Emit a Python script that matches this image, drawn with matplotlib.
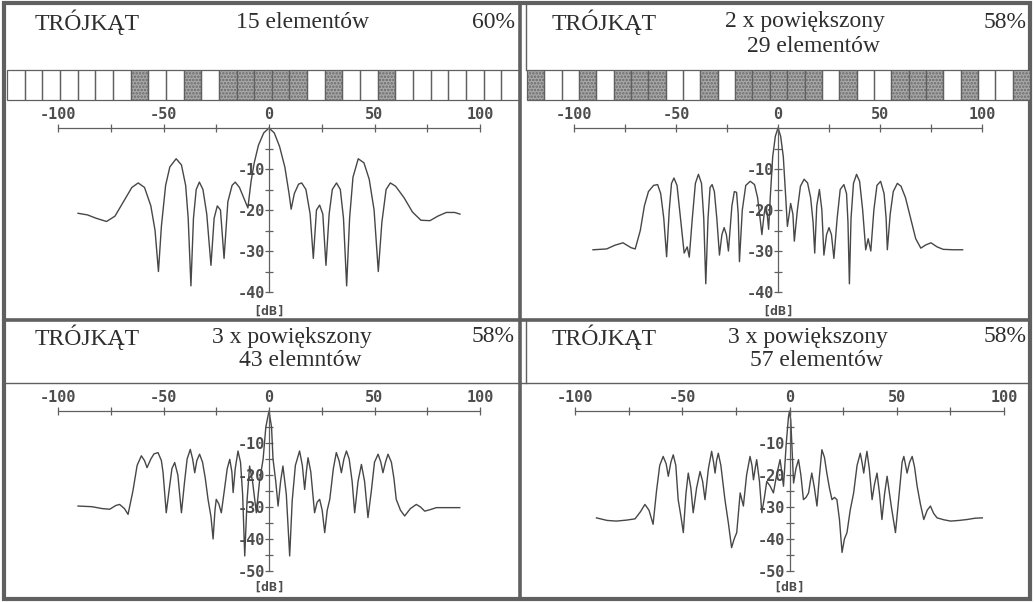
"""Array-factor patterns of thinned triangular arrays (scan re-drawn)."""
import matplotlib

matplotlib.use("Agg")
import matplotlib.pyplot as plt
from matplotlib.patches import Rectangle

W, H = 1034, 602

# ---- values (angle in deg, level in dB) ----
tl_angle = [-90.5, -86, -82, -77, -73, -69, -65, -62, -59, -56, -54, -52.4, -51, -49, -47,
            -44, -41.5, -39.5, -38.3, -37, -35.8, -34.5, -33, -31.3, -29.5, -27.5, -26,
            -24.5, -23, -21.3, -19.5, -17.5, -16, -14, -12, -10, -8.5, -7, -5, -2.5, 0,
            2.5, 5, 7.5, 9.5, 10.5, 12, 14, 15.5, 17.5, 19.5, 21, 22.5, 24, 25.5, 27, 28.5,
            30, 32, 33.8, 35.3, 36.8, 38.2, 39.8, 42.3, 45, 47.5, 49.8, 51.8, 53.5, 55.5,
            57.5, 60, 64, 68, 72, 76.3, 80, 84, 88, 90.5]
tl_db = [-20.8, -21.2, -22.0, -22.8, -21.5, -18.0, -14.5, -13.4, -14.5, -19, -25, -35, -24,
         -14, -9.5, -7.5, -9, -14, -22, -38.5, -22, -15, -13.2, -15, -21, -33.5, -22, -19,
         -20, -31.8, -18, -14, -13.2, -14.5, -17, -19.5, -13, -8.5, -4.2, -1.2, 0,
         -1.2, -4.5, -9.5, -16, -19.8, -16, -13.7, -13.4, -15, -21, -31.8, -20, -18.8, -21,
         -33.5, -21, -15, -13.4, -15, -22, -38.5, -22, -12, -7.5, -8.5, -12.5, -20, -35,
         -23, -15, -13.4, -14.2, -17, -20.5, -22.5, -22.6, -21.5, -20.6, -20.6, -21]

tr_angle = [-90.7, -84, -80, -76, -72, -70, -67.5, -65.5, -63.5, -61, -59, -57.5, -56, -54.6,
            -53.3, -52.2, -51, -49.5, -47.8, -46, -44.5, -43.5, -42, -40.5, -39, -37.5,
            -36.4, -35.4, -34.3, -33.3, -32.3, -31.2, -30, -28.7, -27.5, -26.4, -25.3,
            -24.3, -22.6, -21.4, -20.3, -19.5, -18.9, -17.5, -15.8, -13.6, -11.5, -10,
            -8.8, -7.9, -6.8, -6.2, -5.3, -4.6, -3.8, -2.6, -1.3, 0, 1.3, 2.6, 3.8, 4.6,
            5.5, 6.2, 7.3, 8, 9.5, 11, 12.8, 14.5, 16, 17.2, 18, 19, 20.3, 21.5, 22.5,
            23.8, 25, 26.2, 27.4, 29, 30.5, 32.3, 33.6, 34.3, 35, 35.8, 37, 38.5, 40,
            41.5, 43, 44.2, 45.5, 47, 48.5, 50.3, 52, 53, 53.6, 55, 56.5, 58.5, 60.3,
            62.5, 65, 67.5, 70, 72.5, 75, 78, 81, 86, 90.5]
tr_db = [-29.7, -29.5, -28.6, -28, -29.2, -29.5, -25, -19, -15.5, -14, -13.8, -16, -22, -31.4,
         -20, -13.5, -12.2, -14, -22, -30.5, -29, -31.5, -22, -13.5, -11.3, -13.5,
         -22, -38, -22, -14.5, -13.8, -15.5, -22, -31, -26, -24.3, -26,
         -30, -19, -15.5, -15.7, -21, -32.6, -20, -14, -13, -13.8, -17,
         -22, -26, -21, -19.2, -21, -24.7, -17, -7, -2, 0, -2, -7, -17, -24,
         -21, -18.4, -21, -27.6, -20, -14.2, -12.5, -13.4, -17, -23, -30.5, -19, -15, -20, -31,
         -26, -24.3, -26, -31.8, -22, -15, -13.8, -16, -23, -38, -22, -13.5, -11.3, -13,
         -20, -29.7, -27, -30, -20, -14, -13, -16, -22, -29.7, -21, -15.5, -13.5, -14.2,
         -17, -22, -27, -29.3, -28.5, -28, -29, -29.6, -29.7, -29.7]

bl_angle = [-90.5, -84, -79, -75.5, -72.5, -70.8, -68.5, -66.8, -64.5, -62.5, -60.5, -59,
            -57.8, -56, -54.5, -52.6, -51, -50.2, -49.4, -48.7, -47.2, -46, -44.7, -43.2,
            -41.5, -40, -38.8, -37.3, -36.2, -35.2, -34.2, -32.9, -31.5, -30.2, -28.9,
            -27.5, -26.5, -25.6, -25, -23.8, -22.6, -21, -19.8, -18.6, -17.6, -17, -16,
            -14.7, -13.5, -12.5, -11.5, -10.4, -9.2, -7.8, -6, -4.5, -2.8, -1.5, 0, 1.2,
            1.9, 3.2, 4.3, 5.5, 6.6, 8.2, 9.8, 11, 12.5, 14.5, 15.8, 16.9, 17.7, 18.5,
            19.8, 21.6, 22.8, 24, 25.2, 26.4, 27.6, 28.8, 30.5, 31.9, 33.2, 34.3, 35.5,
            36.7, 38, 39.4, 40.6, 42.2, 43.8, 45.3, 46.9, 48.5, 50, 51.7, 53, 54, 55.2,
            56.4, 58, 59.2, 60.3, 62.3, 64.3, 67, 69.8, 71.8, 73.8, 76.5, 79.3, 84, 90.4]
bl_db = [-29.7, -29.9, -30.5, -30.7, -29.5, -29.2, -30.5, -32.3, -25, -17, -14, -15.5,
         -17.7, -15, -13.4, -13, -15.5, -19.3, -26, -31.8, -24, -18, -16.1, -20,
         -31.8, -22, -15, -12, -15, -19.3, -15.5, -13.5, -16, -21, -27.6,
         -33, -40, -31, -27.6, -29, -31.8, -24, -18, -15.1, -19, -25.5, -18,
         -12.5, -16, -26, -45.3, -28, -17.2, -22, -31.8, -22, -15.1, -5, 0, -5,
         -15, -22, -29.7, -22, -17.2, -26, -45.3, -28, -17, -12.5, -17, -24.5, -19, -14.6,
         -19, -31.8, -28.5, -27.6, -31, -38, -31, -27.6, -18, -13, -15.5, -19.3, -15,
         -12.5, -15, -22, -31.8, -22, -16.7, -22, -33.3, -25, -16, -13.5, -16, -19.3, -16,
         -13.5, -16, -21, -27.6, -31, -32.8, -30.5, -29.2, -30, -31.3, -30.8, -30.2, -30.2, -30.2]

br_angle = [-90, -85, -80.7, -76, -72, -69.5, -67.4, -65.5, -63.6, -62, -60.5, -58.9, -57.5,
            -56.5, -55.3, -54.2, -53, -51.9, -50.6, -49.5, -48.3, -47.2, -46, -44.9, -43.3,
            -41.7, -40.5, -39.4, -37.8, -36.3, -35.4, -34.7, -34, -33.2, -32, -30.1, -28.5,
            -27, -25.8, -24.6, -23, -21.5, -20, -18.4, -17.5, -16.8, -16, -15.3, -14,
            -12.9, -11.7, -10.6, -9, -7.5, -6, -4.4, -3.6, -2.8, -1.5, -0.5, 0, 0.6, 1.2,
            1.9, 3, 4.2, 5.3, 6.5, 7.7, 8.9, 9.7, 10.4, 11.6, 12.8, 14, 15.1, 16.3, 17.4,
            18.6, 19.8, 21, 22.1, 23.3, 24.5, 25.6, 26.8, 28.3, 29.9, 31.5, 33, 33.8, 34.6,
            35.4, 36.1, 37.2, 38.5, 39.6, 40.8, 42, 43.1, 44.3, 45.5, 47.5, 49.4, 51.4,
            52.5, 53.3, 54, 54.8, 56, 57.2, 58.3, 59.5, 61, 62.6, 64.2, 65.7, 67.2, 68.8,
            72, 75.1, 79, 82.9, 86.5, 89.9]
br_db = [-33.4, -34.2, -34.4, -34.1, -33.7, -31.5, -29.2, -31, -35.4, -25, -17, -14.2, -16.5,
         -20.4, -16, -13.7, -17, -27.7, -33, -38, -26, -19.4, -24, -31.8, -24,
         -18.9, -22, -27.7, -18, -12.6, -16, -19.4, -15.5, -13.2, -17, -27.7, -35,
         -42.7, -40, -38, -25.6, -29.7, -20, -14.2, -17, -21.5, -18, -15.2, -22,
         -31.8, -27, -22, -23.5, -25.6, -20, -15.2, -19, -23.5, -10, -2, 0, -3, -12,
         -22.5, -18, -15.2, -20, -27.7, -27, -25.6, -22, -19.4, -24, -29.7, -20, -12.1, -14.5, -19.4,
         -24, -27.7, -27, -27.7, -34, -44.2, -40, -38, -31, -25.6, -17, -13.2, -16, -19.4,
         -15.5, -12.6, -18, -27.7, -23, -19.4, -26, -33.9, -26, -20.4, -30, -38, -24,
         -16, -14.2, -16.5, -19.4, -16, -14.2, -17.5, -23.5, -29, -33.9, -31, -29.7, -32, -33.4,
         -34, -34.4, -34.2, -33.9, -33.5, -33.4]

# element occupancy bars (1 = active element), 29 positions each
bar_15 = [0, 0, 0, 0, 0, 0, 0, 1, 0, 0, 1, 0, 1, 1, 1, 1, 1, 0, 1, 0, 0, 1, 0, 0, 0, 0, 0, 0, 0]
bar_29 = [1, 0, 0, 1, 0, 1, 1, 1, 0, 0, 1, 0, 1, 1, 1, 1, 1, 0, 1, 0, 0, 1, 1, 1, 0, 1, 0, 0, 1]

headers = [
    ("TRÓJKĄT", "15 elementów", "", "60%"),
    ("TRÓJKĄT", "2 x powiększony", "29 elementów", "58%"),
    ("TRÓJKĄT", "3 x powiększony", "43 elemntów", "58%"),
    ("TRÓJKĄT", "3 x powiększony", "57 elementów", "58%"),
]

LINE = "#606060"
INK = "#474747"
SHADE = "#a8a8a8"

plt.rcParams["font.family"] = ["DejaVu Sans Mono"]
plt.rcParams["font.weight"] = "bold"
plt.rcParams["axes.unicode_minus"] = False
plt.rcParams["hatch.linewidth"] = 1.2

fig = plt.figure(figsize=(W / 100, H / 100), dpi=100)
fig.patch.set_facecolor("white")

# pixel-space canvas for frames, bars and header text
bg = fig.add_axes([0, 0, 1, 1])
bg.set_xlim(0, W)
bg.set_ylim(H, 0)
bg.axis("off")

bg.add_patch(Rectangle((4, 3), W - 8, H - 6, fill=False, ec=LINE, lw=3))
bg.plot([520, 520], [3, H - 3], color=LINE, lw=2.6)
bg.plot([4, W - 4], [320, 320], color=LINE, lw=2.6)
bg.plot([4, W - 4], [383, 383], color=LINE, lw=1)
bg.plot([526, 526], [320, 383], color=LINE, lw=1)
bg.plot([526, 526], [3, 70], color=LINE, lw=1)


def draw_bar(x0, x1, cells):
    cw = (x1 - x0) / len(cells)
    for i, on in enumerate(cells):
        x = x0 + i * cw
        if on:
            bg.add_patch(Rectangle((x, 70), cw, 30, fc=SHADE, ec="#6a6a6a", lw=0,
                                   hatch="....."))
        bg.add_patch(Rectangle((x, 70), cw, 30, fill=False, ec=LINE, lw=0.9))


draw_bar(7, 519, bar_15)
draw_bar(527, 1030, bar_29)

serif = dict(family="Liberation Serif", weight="normal", size=17, color="#2e2e2e", va="center")
header_pos = [(35, 302, 515, 22, 46), (552, 805, 1027, 22, 46),
              (35, 292, 515, 337, 360), (552, 808, 1027, 337, 360)]
for (left, mid, second, right), (xl, xm, xr, y1, y2) in zip(headers, header_pos):
    bg.text(xl, y1, left, ha="left", **serif)
    bg.text(xm, y1, mid, ha="center", **serif)
    bg.text(xr, y1, right, ha="right", **serif)
    if second:
        bg.text(xm + 8, y2, second, ha="center", **serif)


def pattern_axes(x0, x1, y0, y1, ymin, angle, db, unit_gap):
    # x0/x1: pixel columns of -100/+100, y0/y1: pixel rows of 0 dB / ymin
    ax = fig.add_axes([x0 / W, 1 - y1 / H, (x1 - x0) / W, (y1 - y0) / H])
    ax.set_xlim(-100, 100)
    ax.set_ylim(ymin, 0)
    ax.patch.set_visible(False)
    ax.spines[["right", "bottom"]].set_visible(False)
    ax.spines["left"].set_position(("data", 0))
    for s in ("left", "top"):
        ax.spines[s].set_color(LINE)
        ax.spines[s].set_linewidth(0.9)
    ax.xaxis.tick_top()
    ax.set_xticks([-100, -50, 0, 50, 100])
    ax.set_xticks([-75, -25, 25, 75], minor=True)
    ax.set_yticks(list(range(-10, ymin - 1, -10)))
    ax.set_yticks(list(range(-5, ymin, -10)), minor=True)
    ax.tick_params(which="both", direction="inout", length=6, width=0.9, color=LINE,
                   labelsize=11, labelcolor="#4d4d4d")
    ax.tick_params(axis="x", pad=1)
    ax.tick_params(axis="y", pad=0)
    ax.plot(angle, db, color=INK, lw=1.0, clip_on=False)
    ax.annotate("[dB]", xy=(0, ymin), xytext=(0, -unit_gap), textcoords="offset points",
                ha="center", va="center", fontsize=9.5, color="#4d4d4d")
    return ax


pattern_axes(58, 480, 128, 292, -40, tl_angle, tl_db, 13.5)
pattern_axes(574, 982, 128, 292, -40, tr_angle, tr_db, 13.5)
pattern_axes(58, 480, 411, 571, -50, bl_angle, bl_db, 11.5)
pattern_axes(575, 1004, 411, 571, -50, br_angle, br_db, 11.5)

fig.savefig("out.png", dpi=100)
